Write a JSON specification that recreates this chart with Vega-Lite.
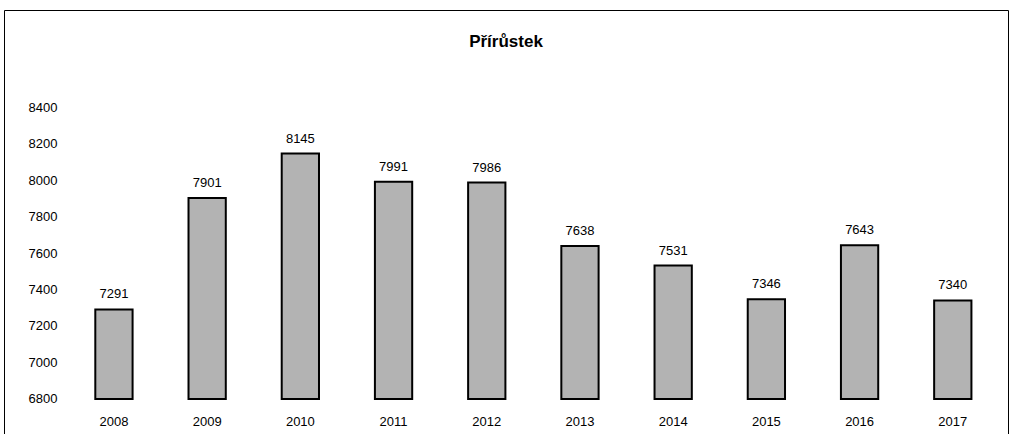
{
  "$schema": "https://vega.github.io/schema/vega-lite/v6.json",
  "autosize": "none",
  "width": 1004,
  "height": 424,
  "padding": {"left": 4, "top": 10, "right": 4, "bottom": 0},
  "background": "white",
  "config": {
    "view": {"stroke": "black", "strokeWidth": 1},
    "font": "Liberation Sans"
  },
  "title": {
    "text": "Přírůstek",
    "anchor": "middle",
    "frame": "group",
    "offset": 0,
    "baseline": "alphabetic",
    "dy": 54,
    "fontSize": 17,
    "fontWeight": "bold",
    "font": "Liberation Sans",
    "color": "black"
  },
  "data": {
    "values": [
      {"year": "2008", "value": 7291},
      {"year": "2009", "value": 7901},
      {"year": "2010", "value": 8145},
      {"year": "2011", "value": 7991},
      {"year": "2012", "value": 7986},
      {"year": "2013", "value": 7638},
      {"year": "2014", "value": 7531},
      {"year": "2015", "value": 7346},
      {"year": "2016", "value": 7643},
      {"year": "2017", "value": 7340}
    ]
  },
  "encoding": {
    "x": {
      "field": "year",
      "type": "ordinal",
      "scale": {"paddingInner": 0.6, "paddingOuter": 0.686, "align": 0.714},
      "axis": {
        "title": null,
        "orient": "bottom",
        "offset": -13,
        "domain": false,
        "ticks": false,
        "grid": false,
        "labelPadding": 0,
        "labelBaseline": "middle",
        "labelAngle": 0,
        "labelFontSize": 13,
        "labelFont": "Liberation Sans",
        "labelColor": "black"
      }
    },
    "y": {
      "field": "value",
      "type": "quantitative",
      "scale": {"domain": [6608, 8932], "nice": false, "zero": false},
      "axis": {
        "title": null,
        "format": "d",
        "values": [6800, 7000, 7200, 7400, 7600, 7800, 8000, 8200, 8400],
        "offset": -53,
        "domain": false,
        "ticks": false,
        "grid": false,
        "labelPadding": 0,
        "labelBaseline": "middle",
        "labelAlign": "right",
        "labelFontSize": 13,
        "labelFont": "Liberation Sans",
        "labelColor": "black"
      }
    }
  },
  "layer": [
    {
      "mark": {"type": "bar", "fill": "#b3b3b3", "stroke": "black", "strokeWidth": 2},
      "encoding": {"y2": {"datum": 6800}}
    },
    {
      "mark": {"type": "text", "baseline": "middle", "dy": -15, "fontSize": 13, "font": "Liberation Sans", "color": "black"},
      "encoding": {"text": {"field": "value", "type": "quantitative"}}
    }
  ]
}
